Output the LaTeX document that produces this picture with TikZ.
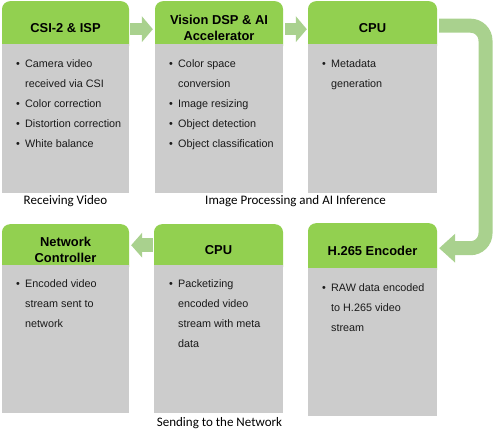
\documentclass[tikz,border=0pt]{standalone}
\usepackage{fontspec}
\setmainfont{Liberation Sans}
\newfontfamily\calib{Carlito}
\usetikzlibrary{arrows.meta,calc}
\definecolor{hdrgreen}{HTML}{92D050}
\definecolor{bodygray}{HTML}{CCCCCC}
\definecolor{arrgreen}{HTML}{A9D18E}
\definecolor{txtdark}{HTML}{1A1A1A}
\newcommand\bitem[1]{\makebox[9pt][l]{\textbullet}#1}
\newcommand\bcont[1]{\hspace*{9pt}#1}
\tikzset{
  hdr/.style={fill=hdrgreen, rounded corners=8pt, inner sep=0pt, anchor=north,
    font=\bfseries\fontsize{12.9}{15.5}\selectfont, align=center, text=black},
  bodybox/.style={fill=bodygray, inner sep=0pt, anchor=north west},
  lst/.style={anchor=north west, inner sep=0pt, align=left,
    font=\fontsize{10.8}{20}\selectfont, text=txtdark},
  lbl/.style={font=\calib\fontsize{13}{15}\selectfont, text=black},
  flowA/.style={arrgreen, line width=12pt,
    -{Triangle[width=26pt,length=11pt,line width=0pt]}},
  flowB/.style={arrgreen, line width=14pt,
    -{Triangle[width=25pt,length=11pt,line width=0pt]}},
  flowC/.style={arrgreen, line width=14pt, rounded corners=15pt,
    -{Triangle[width=29pt,length=16pt,line width=0pt]}}
}
\begin{document}
\begin{tikzpicture}[x=1pt,y=-1pt]
\path[use as bounding box] (0,0) rectangle (493,430);
% top row
\node[hdr, minimum width=127pt, minimum height=53pt] (h1) at (65.5,1) {CSI-2 \& ISP};
\node[bodybox, minimum width=127pt, minimum height=149pt] (b1) at (2,44) {};
\node[hdr, minimum width=128pt, minimum height=53pt] (h2) at (219,1) {Vision DSP \& AI\\Accelerator};
\node[bodybox, minimum width=128pt, minimum height=149pt] (b2) at (155,44) {};
\node[hdr, minimum width=129pt, minimum height=53pt] (h3) at (372.5,1) {CPU};
\node[bodybox, minimum width=129pt, minimum height=149pt] (b3) at (308,44) {};
% bottom row
\node[hdr, minimum width=127pt, minimum height=51pt] (h4) at (65.5,224) {Network\\Controller};
\node[bodybox, minimum width=127pt, minimum height=148pt] (b4) at (2,265) {};
\node[hdr, minimum width=129pt, minimum height=51pt] (h5) at (218.5,224) {CPU};
\node[bodybox, minimum width=129pt, minimum height=148pt] (b5) at (154,265) {};
\node[hdr, minimum width=129pt, minimum height=55pt] (h6) at (372.5,223) {H.265 Encoder};
\node[bodybox, minimum width=129pt, minimum height=148pt] (b6) at (308,268) {};
% lists
\node[lst] (l1) at (16,59) {\bitem{Camera video}\\\bcont{received via CSI}\\\bitem{Color correction}\\\bitem{Distortion correction}\\\bitem{White balance}};
\node[lst] (l2) at (169,59) {\bitem{Color space}\\\bcont{conversion}\\\bitem{Image resizing}\\\bitem{Object detection}\\\bitem{Object classification}};
\node[lst] (l3) at (322,59) {\bitem{Metadata}\\\bcont{generation}};
\node[lst] (l4) at (16,279) {\bitem{Encoded video}\\\bcont{stream sent to}\\\bcont{network}};
\node[lst] (l5) at (169,279) {\bitem{Packetizing}\\\bcont{encoded video}\\\bcont{stream with meta}\\\bcont{data}};
\node[lst] (l6) at (322,283) {\bitem{RAW data encoded}\\\bcont{to H.265 video}\\\bcont{stream}};
% labels
\node[lbl] (lab1) at (65.5,201) {Receiving Video};
\node[lbl] (lab2) at (295.5,201) {Image Processing and AI Inference};
\node[lbl] (lab3) at (219.5,423) {Sending to the Network};
% arrows
\draw[flowA] ([xshift=1pt,yshift=-1.5pt]h1.east) -- ([xshift=-2pt,yshift=-1.5pt]h2.west);
\draw[flowA] ([xshift=2pt,yshift=-1.5pt]h2.east) -- ([xshift=-1pt,yshift=-1.5pt]h3.west);
\coordinate (bend) at (485.5,136);
\draw[flowC] ([xshift=2pt,yshift=2pt]h3.east) -| (bend) |- ([xshift=2pt,yshift=2.5pt]h6.east);
\draw[flowB] ([xshift=-1pt,yshift=4.5pt]h5.west) -- ([xshift=2pt,yshift=4.5pt]h4.east);
\end{tikzpicture}
\end{document}
